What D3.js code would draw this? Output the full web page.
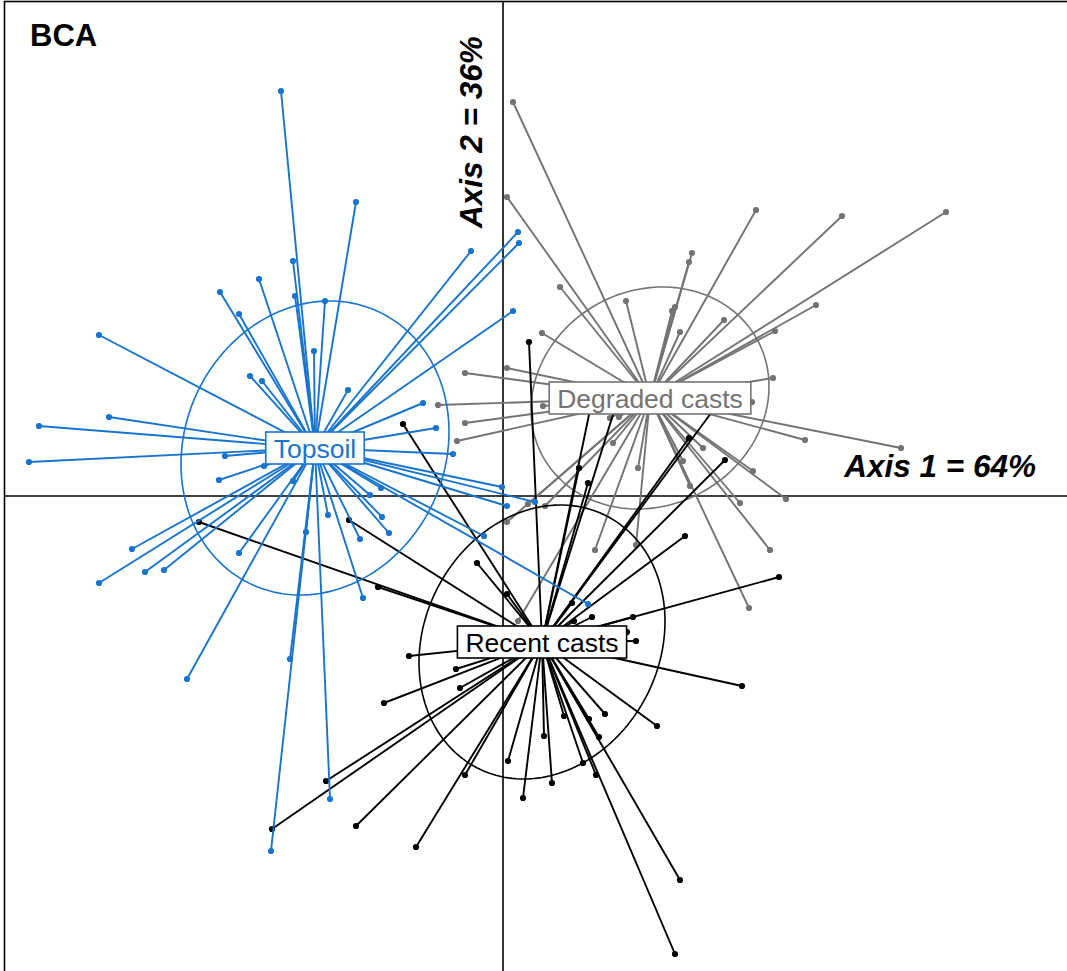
<!DOCTYPE html>
<meta charset="utf-8">
<style>
body { margin: 0; background: #fff; }
svg { display: block; font-family: "Liberation Sans", Arial, sans-serif; }
</style>
<script src="https://d3js.org/d3.v7.min.js"></script>
<svg width="1067" height="971"></svg>
<script>

// group names and colours
var groups = ["Degraded casts", "Recent casts", "Topsoil"];
var colors = ["#737373", "#000000", "#1874CD"];

// group centroids (axis 1, axis 2)
var centroids = [[1.47, 0.98], [0.39, -1.46], [-1.88, 0.48]];

// ellipse half widths / heights and correlation
var ellW = [1.19, 1.23, 1.34];
var ellH = [1.11, 1.37, 1.47];
var ellR = [0.105, 0.15, 0.11];

var degraded = [
  [0.10, 3.94], [0.04, 2.99], [1.89, 2.43], [1.86, 2.34], [0.57, 2.09], [1.23, 1.95],
  [1.72, 1.89], [1.69, 1.85], [1.77, 1.64], [0.39, 1.63], [0.04, 1.28], [-0.38, 1.23],
  [2.53, 2.86], [3.39, 2.80], [4.43, 2.84], [3.13, 1.91], [2.21, 1.76], [2.72, 1.65],
  [2.70, 1.18], [0.40, 0.90], [1.10, 0.53], [1.35, 0.28], [2.00, 0.48], [1.87, 0.10],
  [1.80, 0.35], [2.50, 0.25], [3.02, 0.56], [2.37, -0.07], [2.83, -0.03], [2.67, -0.54],
  [0.92, -0.54], [1.33, -0.49], [0.04, -0.26], [0.42, -0.10], [0.25, -0.08], [1.07, 0.78],
  [1.16, 0.79], [3.98, 0.48], [2.46, -1.12], [2.49, 0.94], [-0.65, 0.91], [-0.38, 0.73],
  [-0.46, 0.55], [0.15, -1.25]
];

var recent = [
  [0.26, 1.54], [-1.00, 0.72], [-3.04, -0.26], [-1.54, -0.24], [-1.25, -0.91], [0.76, 0.28],
  [0.85, 0.13], [1.86, 0.58], [2.22, 0.36], [1.82, -0.40], [0.88, 0.91], [1.13, 0.91],
  [2.14, 0.91], [-0.26, -0.67], [0.04, -0.98], [0.69, -1.07], [0.89, -1.21], [1.30, -1.21],
  [0.71, -1.25], [1.24, -1.36], [1.33, -1.45], [-0.94, -1.60], [-0.47, -1.73], [-1.19, -2.07],
  [-0.43, -1.92], [0.61, -2.20], [1.02, -2.18], [1.54, -2.30], [0.86, -2.23], [0.41, -2.40],
  [0.96, -2.41], [0.05, -2.65], [0.80, -2.67], [-0.38, -2.79], [0.93, -2.79], [0.49, -2.87],
  [0.20, -3.02], [2.39, -1.90], [2.76, -0.81], [-1.77, -2.85], [-2.31, -3.33], [-1.47, -3.30],
  [-0.87, -3.51], [1.77, -3.84], [1.72, -4.58]
];

var topsoil = [
  [-2.22, 4.05], [-1.47, 2.94], [-2.10, 2.35], [-2.44, 2.17], [-2.83, 2.04], [-2.08, 2.00],
  [-1.78, 1.95], [-2.64, 1.82], [-4.04, 1.61], [-1.89, 1.45], [-2.53, 1.20], [-2.41, 1.15],
  [-1.55, 1.06], [-0.32, 2.45], [0.15, 2.64], [0.16, 2.53], [0.10, 1.85], [-0.80, 0.93],
  [-0.67, 0.68], [-0.50, 0.42], [-2.78, 0.40], [-2.84, 0.16], [-2.39, 0.30], [-2.10, 0.15],
  [-1.22, 0.08], [-1.33, 0.01], [-1.75, -0.19], [-1.21, -0.21], [-1.14, -0.37], [-1.43, -0.43],
  [-1.97, -0.36], [-2.64, -0.57], [-3.94, 0.79], [-4.64, 0.70], [-4.74, 0.34], [-3.71, -0.53],
  [-4.04, -0.87], [-3.58, -0.76], [-3.39, -0.74], [-3.16, -1.83], [-2.13, -1.63], [-1.73, -3.03],
  [-2.32, -3.55], [-0.01, 0.09], [0.04, -0.10], [0.32, -0.06], [-0.19, -0.40], [0.85, -1.08],
  [-1.40, -1.02]
];

var points = [degraded, recent, topsoil];

var svg = d3.select("svg"),
    width = +svg.attr("width"),
    height = +svg.attr("height");

var x = d3.scaleLinear().domain([-4.98, 5.64]).range([5, 1067]);
var y = d3.scaleLinear().domain([4.94, -4.75]).range([2, 971]);

// frame
svg.append("rect")
    .attr("x", 4.5).attr("y", 1.5)
    .attr("width", width + 10).attr("height", height + 10)
    .attr("fill", "none").attr("stroke", "#000").attr("stroke-width", 1.6);

// axes through the origin
svg.append("line")
    .attr("x1", x.range()[0]).attr("x2", width)
    .attr("y1", y(0)).attr("y2", y(0))
    .attr("stroke", "#000").attr("stroke-width", 1.6);
svg.append("line")
    .attr("x1", x(0)).attr("x2", x(0))
    .attr("y1", y.range()[0]).attr("y2", height)
    .attr("stroke", "#000").attr("stroke-width", 1.6);

var line = d3.line().x(function(d) { return x(d[0]); }).y(function(d) { return y(d[1]); });

groups.forEach(function(name, i) {
  var c = centroids[i], col = colors[i];
  var g = svg.append("g");

  // ellipse from half width, half height and correlation
  var W = ellW[i], H = ellH[i], r = ellR[i];
  var ell = d3.range(0, 2 * Math.PI + 0.01, Math.PI / 90).map(function(t) {
    return [c[0] + W * Math.cos(t), c[1] + H * (r * Math.cos(t) + Math.sqrt(1 - r * r) * Math.sin(t))];
  });
  g.append("path")
      .attr("d", line(ell))
      .attr("fill", "none").attr("stroke", col).attr("stroke-width", 1.6);

  g.selectAll("line.star")
    .data(points[i])
    .enter().append("line")
      .attr("class", "star")
      .attr("x1", x(c[0])).attr("y1", y(c[1]))
      .attr("x2", function(d) { return x(d[0]); })
      .attr("y2", function(d) { return y(d[1]); })
      .attr("stroke", col).attr("stroke-width", 1.9);

  g.selectAll("circle")
    .data(points[i])
    .enter().append("circle")
      .attr("cx", function(d) { return x(d[0]); })
      .attr("cy", function(d) { return y(d[1]); })
      .attr("r", 3.1)
      .attr("fill", col);
});

// labels on top
groups.forEach(function(name, i) {
  var c = centroids[i], col = colors[i];
  var lab = svg.append("g").attr("transform", "translate(" + x(c[0]) + "," + y(c[1]) + ")");
  var rect = lab.append("rect");
  var txt = lab.append("text")
      .attr("text-anchor", "middle")
      .attr("dy", "0.36em")
      .attr("font-size", 26.5)
      .attr("fill", col)
      .text(name);
  var bb = txt.node().getBBox();
  rect.attr("x", bb.x - 8).attr("y", -16)
      .attr("width", bb.width + 16).attr("height", 32)
      .attr("fill", "#fff").attr("stroke", col).attr("stroke-width", 1.6);
});

svg.append("text")
    .attr("x", 30).attr("y", 46)
    .attr("font-size", 31).attr("font-weight", "bold")
    .text("BCA");

svg.append("text")
    .attr("x", 1036).attr("y", 477)
    .attr("text-anchor", "end")
    .attr("font-size", 31.5).attr("font-weight", "bold").attr("font-style", "italic")
    .text("Axis 1 = 64%");

svg.append("text")
    .attr("transform", "translate(482,228) rotate(-90)")
    .attr("font-size", 31.5).attr("font-weight", "bold").attr("font-style", "italic")
    .text("Axis 2 = 36%");

</script>
